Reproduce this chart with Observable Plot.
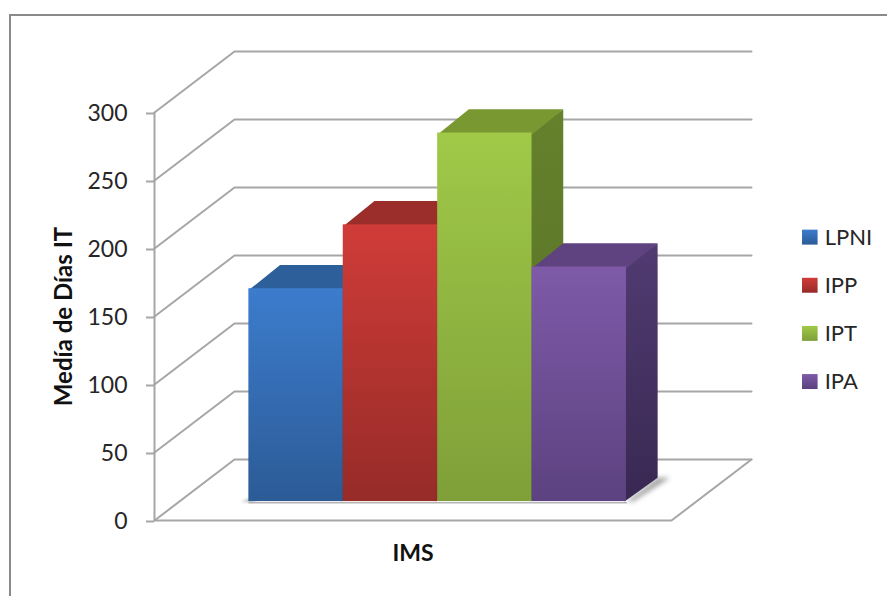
<!DOCTYPE html>
<html>
<head>
<meta charset="utf-8">
<script src="https://cdn.jsdelivr.net/npm/d3@7"></script>
<script src="https://cdn.jsdelivr.net/npm/@observablehq/plot@0.6"></script>
<style>
  html, body { margin: 0; background: #fff; overflow: hidden; }
  #frame { position: absolute; left: 9px; top: 14px; right: -4px; bottom: -4px; border: 2px solid #8a8a8a; }
  #chart { position: absolute; left: 0; top: 0; }
</style>
</head>
<body>
<div id="frame"></div>
<div id="chart"></div>
<script>
// Series
const categories = ["LPNI", "IPP", "IPT", "IPA"];
const values = [156.5, 203.5, 271, 172.5];
const yTicks = [0, 50, 100, 150, 200, 250, 300];

// Face colours per series
const frontTop = ["#3c7ccd", "#d03c38", "#a0c948", "#7e5aa8"];
const frontBottom = ["#2c5b96", "#962b28", "#7f9f38", "#5c4280"];
const topFace = ["#2d5f9b", "#9b2d2a", "#7a9832", "#5f4280"];
const sideTop = ["#284f80", "#7f2624", "#65812c", "#513b72"];
const sideBottom = ["#1f3e66", "#631d1b", "#566f26", "#392852"];

// Oblique projection of the box: x in bar widths, y in axis units, depth 0..1
const floorWidth = 5.477;
const depthX = 0.8475;
const depthY = 44.85;
const barStart = 0.737;
const depthFront = 0.31;
const depthBack = 0.70;
const project = (x, v, d) => ({x: x + d * depthX, y: v + d * depthY});

// Polygon helper: closed outlines go through the line mark
const face = (corners, fill, options = {}) =>
  Plot.line([...corners, corners[0]], {x: "x", y: "y", fill, stroke: "none", ...options});

// Walls and floor
const gridStyle = {x: "x", y: "y", stroke: "#a6a6a6", strokeWidth: 2};
const grid = yTicks.map((v) =>
  Plot.line([project(0, v, 0), project(0, v, 1), project(floorWidth, v, 1)], gridStyle)
);
const floorEdge = Plot.line(
  [project(0, 0, 0), project(floorWidth, 0, 0), project(floorWidth, 0, 1)],
  gridStyle
);
const wallEdge = Plot.ruleX([0], {y1: 0, y2: 300, stroke: "#a6a6a6", strokeWidth: 2});

// Soft shadows cast on the floor
const end = barStart + categories.length;
const shadows = [
  face(
    [project(end, 0, depthFront), project(end, 0, depthBack),
     project(end + 0.13, 0, depthBack), project(end + 0.07, 0, depthFront)],
    "#a0a0a0",
    {imageFilter: "blur(2.5px)"}
  ),
  face(
    [project(barStart - 0.08, 0, depthFront), project(barStart + 0.05, 0, depthFront),
     project(barStart + 0.05, 0, depthFront + 0.07), project(barStart, 0, depthFront + 0.07)],
    "#a0a0a0",
    {imageFilter: "blur(1.5px)"}
  ),
  Plot.line(
    [project(barStart, -0.8, depthFront), project(end, -0.8, depthFront)],
    {x: "x", y: "y", stroke: "#b5b5b5", strokeWidth: 1.5}
  )
];

// One box per series, painted left to right
const bars = categories.flatMap((c, i) => {
  const x0 = barStart + i, x1 = x0 + 1, v = values[i];
  return [
    face(
      [project(x1 - 0.02, 0, depthFront), project(x1, 0, depthBack),
       project(x1, v, depthBack), project(x1 - 0.02, v, depthFront)],
      `url(#side${i})`
    ),
    face(
      [project(x0, v - 1, depthFront), project(x1, v - 1, depthFront),
       project(x1, v, depthBack), project(x0, v, depthBack)],
      topFace[i]
    ),
    Plot.rect([{x1: project(x0, 0, depthFront).x, x2: project(x1, 0, depthFront).x,
                y1: project(x0, 0, depthFront).y, y2: project(x0, v, depthFront).y}],
      {x1: "x1", x2: "x2", y1: "y1", y2: "y2", fill: `url(#front${i})`})
  ];
});

// Legend rows sit to the right of the box
const legendX = 6.865;
const legendTop = 208;
const legendStep = 35.4;
const legendRows = categories.map((name, i) => ({name, i, y: legendTop - i * legendStep}));
const legend = [
  ...legendRows.map((r) =>
    Plot.rect([r], {
      x1: legendX, x2: legendX + 0.165,
      y1: (d) => d.y - 5.5, y2: (d) => d.y + 5.5,
      fill: `url(#front${r.i})`
    })
  ),
  Plot.text(legendRows, {
    x: legendX + 0.235, y: "y", text: "name", textAnchor: "start",
    fontSize: 22, fill: "#262626"
  })
];

const chart = Plot.plot({
  width: 887,
  height: 596,
  marginLeft: 154,
  marginRight: 216,
  marginTop: 112,
  marginBottom: 76,
  style: {fontFamily: "Lato, sans-serif", background: "transparent"},
  x: {domain: [0, floorWidth], axis: null},
  y: {domain: [0, 300], axis: null},
  marks: [
    ...grid,
    floorEdge,
    wallEdge,
    ...shadows,
    ...bars,
    Plot.axisY(yTicks, {
      tickSize: 8, tickPadding: 19, label: null, stroke: "#a6a6a6", strokeWidth: 2,
      fill: "#262626", fontSize: 23, dy: 1
    }),
    Plot.text(["Medía de Días IT"], {
      frameAnchor: "left", textAnchor: "middle", dx: -90, rotate: -90,
      fontSize: 24, fontWeight: 700, fill: "#111"
    }),
    Plot.text(["IMS"], {
      frameAnchor: "bottom", dy: 40, fontSize: 23, fontWeight: 700, fill: "#111"
    }),
    ...legend
  ]
});

// Gradient definitions referenced by the faces above
const defs = d3.select(chart).insert("defs", ":first-child");
const vertical = (id, top, bottom) => {
  const g = defs.append("linearGradient").attr("id", id)
    .attr("x1", 0).attr("y1", 0).attr("x2", 0).attr("y2", 1);
  g.append("stop").attr("offset", 0).attr("stop-color", top);
  g.append("stop").attr("offset", 1).attr("stop-color", bottom);
};
categories.forEach((_, i) => {
  vertical(`front${i}`, frontTop[i], frontBottom[i]);
  vertical(`side${i}`, sideTop[i], sideBottom[i]);
});

document.getElementById("chart").append(chart);
</script>
</body>
</html>
